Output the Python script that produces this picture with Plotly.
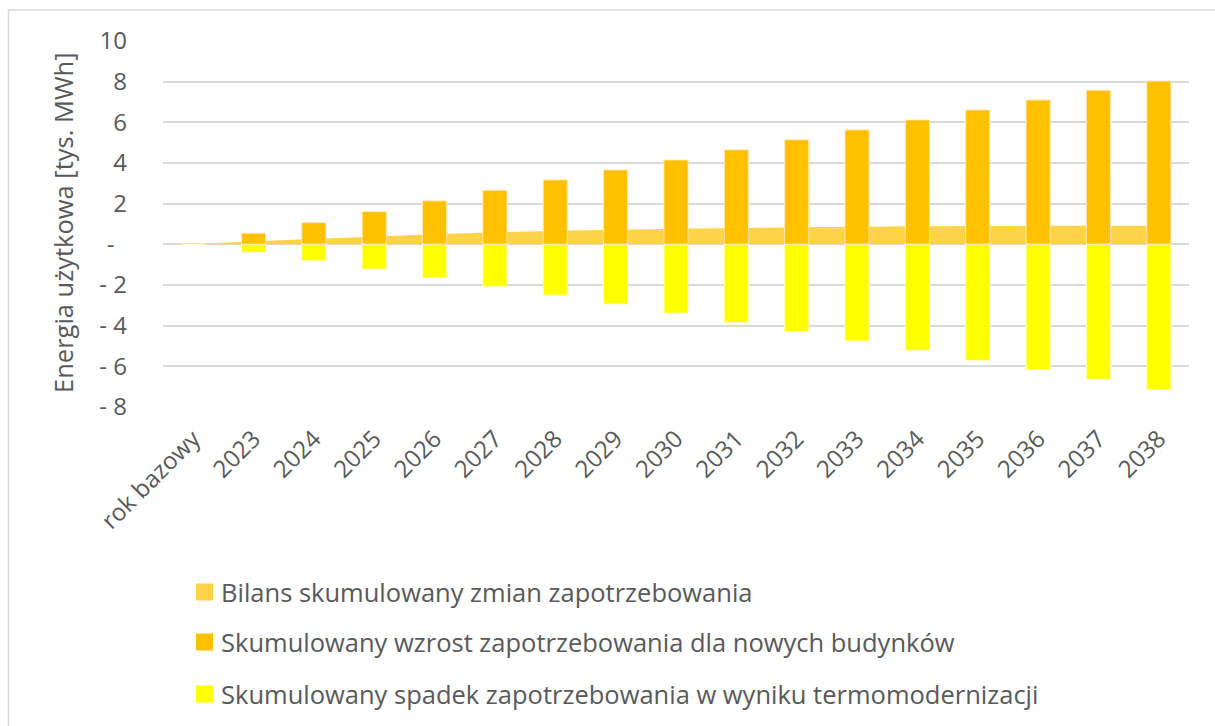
import plotly.graph_objects as go

categories = ["rok bazowy", "2023", "2024", "2025", "2026", "2027", "2028", "2029",
              "2030", "2031", "2032", "2033", "2034", "2035", "2036", "2037", "2038"]

# cumulative demand growth from new buildings [thous. MWh]
growth = [0, 0.55, 1.07, 1.61, 2.14, 2.66, 3.17, 3.66, 4.15, 4.65, 5.14, 5.63,
          6.12, 6.61, 7.10, 7.58, 8.03]

# cumulative demand decrease from thermal modernisation [thous. MWh]
decline = [0, -0.40, -0.81, -1.22, -1.65, -2.07, -2.50, -2.94, -3.38, -3.85, -4.30,
           -4.75, -5.22, -5.71, -6.17, -6.64, -7.15]

# cumulative balance of demand changes [thous. MWh]
balance = [0, 0.15, 0.26, 0.39, 0.49, 0.59, 0.67, 0.72, 0.77, 0.80, 0.84, 0.87,
           0.89, 0.90, 0.91, 0.91, 0.91]

y_ticks = [10, 8, 6, 4, 2, 0, -2, -4, -6, -8]
y_tick_text = ["10", "8", "6", "4", "2", "-\u00a0\u00a0", "-\u00a02", "-\u00a04",
               "-\u00a06", "-\u00a08"]

series_names = [
    "Bilans skumulowany zmian zapotrzebowania",
    "Skumulowany wzrost zapotrzebowania dla nowych budynków",
    "Skumulowany spadek zapotrzebowania w wyniku termomodernizacji",
]
series_colors = ["#FFD347", "#FFC000", "#FFFF00"]

FONT = "Open Sans"
TEXT = "#595959"
GRID = "#D9D9D9"

# plot area in pixels
W, H = 1215, 726
L, R, T, B = 163, 1189, 41, 407
PW, PH = R - L, B - T


def px(x):
    return (x - L) / PW


def py(y):
    return (B - y) / PH


fig = go.Figure()

# balance area on the base axes so that the bars are drawn over it
fig.add_trace(go.Scatter(
    x=categories, y=balance, mode="none", fill="tozeroy",
    fillcolor=series_colors[0], name=series_names[0], hoverinfo="skip",
    xaxis="x", yaxis="y",
))
fig.add_trace(go.Bar(
    x=categories, y=growth, name=series_names[1],
    marker=dict(color=series_colors[1], line=dict(color="rgba(255,236,190,0.9)", width=1)),
    width=0.4, xaxis="x2", yaxis="y2",
))
fig.add_trace(go.Bar(
    x=categories, y=decline, name=series_names[2],
    marker=dict(color=series_colors[2], line=dict(color="rgba(255,255,200,0.9)", width=1)),
    width=0.4, xaxis="x2", yaxis="y2",
))

shapes = [
    # outer chart frame (top and left edges)
    dict(type="line", xref="paper", yref="paper", x0=px(8), x1=px(W + 5), y0=py(10), y1=py(10),
         line=dict(color=GRID, width=1.5)),
    dict(type="line", xref="paper", yref="paper", x0=px(8.5), x1=px(8.5), y0=py(10), y1=py(H + 5),
         line=dict(color=GRID, width=1.5)),
]
annotations = [
    dict(text="Energia użytkowa [tys. MWh]", textangle=-90, xref="paper", yref="paper",
         x=px(63), y=py(223), xanchor="center", yanchor="middle", showarrow=False,
         font=dict(family=FONT, size=25.5, color=TEXT)),
]

# legend rows
legend_rows = [592, 642, 694]
for name, color, yc in zip(series_names, series_colors, legend_rows):
    shapes.append(dict(type="rect", xref="paper", yref="paper",
                       x0=px(196), x1=px(213), y0=py(yc - 8.5), y1=py(yc + 8.5),
                       fillcolor=color, line=dict(width=0)))
    annotations.append(dict(text=name, xref="paper", yref="paper", x=px(219), y=py(yc),
                            xanchor="left", yanchor="middle", showarrow=False,
                            font=dict(family=FONT, size=25.5, color=TEXT)))

fig.update_layout(
    width=W, height=H,
    margin=dict(l=L, r=W - R, t=T, b=H - B, autoexpand=False),
    paper_bgcolor="white", plot_bgcolor="white",
    barmode="overlay",
    font=dict(family=FONT, size=24, color=TEXT),
    showlegend=False,
    shapes=shapes,
    annotations=annotations,
    xaxis=dict(
        type="category", tickangle=-45, showgrid=False, zeroline=False,
        showline=False, ticks="", ticklabelstandoff=12,
        tickfont=dict(family=FONT, size=24, color=TEXT),
        range=[-0.5, 16.5],
    ),
    yaxis=dict(
        range=[-8, 10], tickvals=y_ticks, ticktext=y_tick_text,
        showgrid=True, gridcolor=GRID, gridwidth=1.5,
        zeroline=False,
        showline=False, ticks="", ticklabelstandoff=35,
        tickfont=dict(family=FONT, size=24, color=TEXT),
    ),
    xaxis2=dict(type="category", overlaying="x", matches="x", visible=False,
                range=[-0.5, 16.5]),
    yaxis2=dict(overlaying="y", range=[-8, 10], visible=False, showgrid=False,
                zeroline=False),
)

fig.write_html("out.html")
